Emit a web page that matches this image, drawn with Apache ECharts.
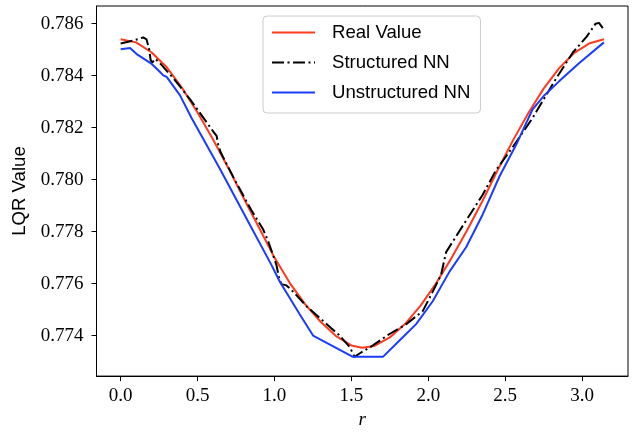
<!DOCTYPE html>
<html>
<head>
<meta charset="utf-8">
<script src="https://cdn.jsdelivr.net/npm/echarts@6/dist/echarts.min.js"></script>
<style>
html,body{margin:0;padding:0;background:#fff;}
#chart{width:636px;height:434px;}
</style>
</head>
<body>
<div id="chart"></div>
<script>
// ---- data ----
const seriesNames = ['Real Value', 'Structured NN', 'Unstructured NN'];

const realR = [0.000,0.100,0.200,0.300,0.400,0.500,0.600,0.700,0.800,0.900,1.000,1.100,1.200,1.300,1.400,1.500,1.571,1.650,1.750,1.850,1.950,2.050,2.150,2.250,2.350,2.450,2.550,2.650,2.750,2.850,2.950,3.050,3.142];
const realY = [0.78540,0.78528,0.78490,0.78432,0.78352,0.78258,0.78155,0.78045,0.77928,0.77815,0.77700,0.77602,0.77520,0.77453,0.77398,0.77362,0.77353,0.77360,0.77393,0.77445,0.77515,0.77600,0.77697,0.77802,0.77915,0.78035,0.78150,0.78255,0.78350,0.78428,0.78488,0.78525,0.78540];

const structR = [0.000,0.082,0.147,0.168,0.186,0.195,0.205,0.225,0.260,0.350,0.450,0.550,0.602,0.624,0.634,0.650,0.750,0.850,0.926,0.958,0.991,1.013,1.030,1.045,1.078,1.110,1.208,1.315,1.424,1.489,1.521,1.553,1.640,1.748,1.857,1.964,2.030,2.083,2.116,2.224,2.354,2.440,2.548,2.678,2.830,2.940,3.030,3.088,3.110,3.142];
const structY = [0.78524,0.78535,0.78547,0.78540,0.78500,0.78460,0.78450,0.78465,0.78445,0.78385,0.78310,0.78228,0.78185,0.78168,0.78135,0.78105,0.77990,0.77882,0.77809,0.77765,0.77709,0.77671,0.77621,0.77598,0.77593,0.77576,0.77513,0.77457,0.77400,0.77356,0.77318,0.77331,0.77362,0.77406,0.77444,0.77494,0.77570,0.77633,0.77721,0.77822,0.77942,0.78036,0.78124,0.78237,0.78388,0.78489,0.78550,0.78600,0.78603,0.78577];

const unstructR = [0.000,0.061,0.104,0.202,0.256,0.277,0.299,0.385,0.461,0.645,0.840,0.981,1.034,1.164,1.251,1.510,1.705,1.813,1.921,2.029,2.138,2.246,2.354,2.462,2.579,2.676,2.754,2.852,2.982,3.142];
const unstructY = [0.78502,0.78506,0.78483,0.78445,0.78414,0.78401,0.78395,0.78325,0.78237,0.78042,0.77826,0.77671,0.77608,0.77482,0.77400,0.77318,0.77318,0.77381,0.77444,0.77532,0.77646,0.77740,0.77866,0.78011,0.78143,0.78268,0.78324,0.78379,0.78449,0.78528];

const xTicks = [0.0, 0.5, 1.0, 1.5, 2.0, 2.5, 3.0];
const yTicks = [0.774, 0.776, 0.778, 0.780, 0.782, 0.784, 0.786];
const xLimits = [-0.15708, 3.29867];
const yLimits = [0.77244, 0.78668];

// ---- chart ----
function zip(a, b) { return a.map((v, i) => [v, b[i]]); }

const chart = echarts.init(document.getElementById('chart'), null, {renderer: 'canvas'});
const tickFont = {fontFamily: 'Liberation Serif', fontSize: 19, color: '#000'};

chart.setOption({
  animation: false,
  backgroundColor: '#fff',
  grid: {left: 96.5, right: 8, top: 6, bottom: 51, show: true, borderColor: '#000', borderWidth: 1, backgroundColor: 'transparent', containLabel: false},
  legend: {
    orient: 'vertical', left: 263, top: 16,
    data: seriesNames,
    itemWidth: 43, itemHeight: 18, itemGap: 11,
    padding: [7, 10, 11, 8],
    backgroundColor: 'rgba(255,255,255,0.8)',
    borderColor: '#cccccc', borderWidth: 1, borderRadius: 4,
    itemStyle: {opacity: 0},
    textStyle: {fontFamily: 'Liberation Sans', fontSize: 18.6, color: '#000', padding: [0, 0, 0, 12]}
  },
  xAxis: {
    type: 'value', min: xLimits[0], max: xLimits[1],
    name: 'r', nameLocation: 'middle', nameGap: 31,
    nameTextStyle: {fontFamily: 'Liberation Serif', fontStyle: 'italic', fontSize: 19, color: '#000'},
    axisLine: {show: true, onZero: false, lineStyle: {color: '#000', width: 1}},
    axisTick: {show: true, inside: false, length: 5, lineStyle: {color: '#000', width: 1}, customValues: xTicks},
    axisLabel: Object.assign({margin: 10, customValues: xTicks, formatter: v => v.toFixed(1)}, tickFont),
    splitLine: {show: false}
  },
  yAxis: {
    type: 'value', min: yLimits[0], max: yLimits[1],
    name: 'LQR Value', nameLocation: 'middle', nameRotate: 90, nameGap: 62,
    nameTextStyle: {fontFamily: 'Liberation Sans', fontSize: 18.6, color: '#000'},
    axisLine: {show: true, onZero: false, lineStyle: {color: '#000', width: 1}},
    axisTick: {show: true, inside: false, length: 5, lineStyle: {color: '#000', width: 1}, customValues: yTicks},
    axisLabel: Object.assign({margin: 13, customValues: yTicks, formatter: v => v.toFixed(3)}, tickFont),
    splitLine: {show: false}
  },
  series: [
    {name: seriesNames[0], type: 'line', data: zip(realR, realY), showSymbol: false, symbol: 'none', clip: true,
     lineStyle: {color: '#ff3a1f', width: 2}, itemStyle: {color: '#ff3a1f'}, z: 2},
    {name: seriesNames[1], type: 'line', data: zip(structR, structY), showSymbol: false, symbol: 'none', clip: true,
     lineStyle: {color: '#000000', width: 2, type: [12, 3.5, 2, 3.5]}, itemStyle: {color: '#000'}, z: 3},
    {name: seriesNames[2], type: 'line', data: zip(unstructR, unstructY), showSymbol: false, symbol: 'none', clip: true,
     lineStyle: {color: '#1a3cff', width: 2}, itemStyle: {color: '#1a3cff'}, z: 4}
  ]
});
</script>
</body>
</html>
